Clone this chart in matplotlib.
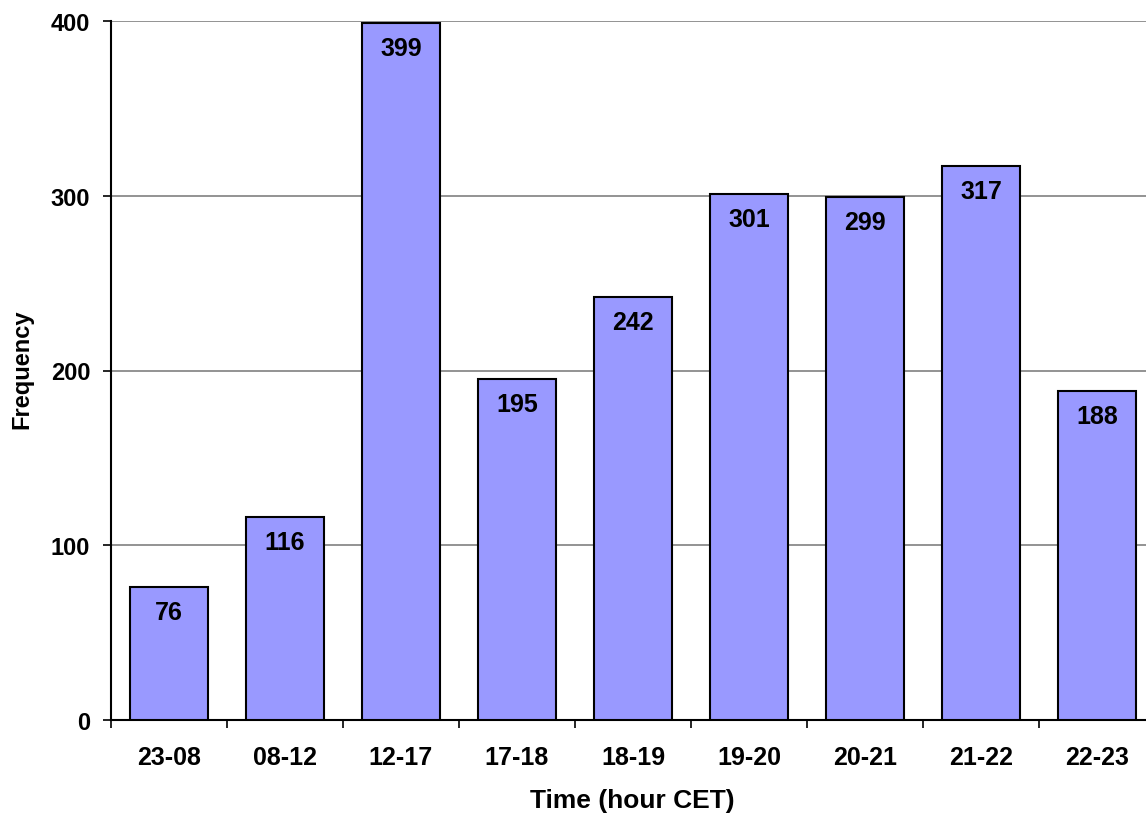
import matplotlib
matplotlib.use("Agg")
import matplotlib.pyplot as plt
import numpy as np

categories = ["23-08", "08-12", "12-17", "17-18", "18-19", "19-20", "20-21", "21-22", "22-23"]
values = [76, 116, 399, 195, 242, 301, 299, 317, 188]
yticks = [0, 100, 200, 300, 400]

plt.rcParams['font.family'] = ['Liberation Sans', 'DejaVu Sans']
FS = 18

fig = plt.figure(figsize=(11.46, 8.2), dpi=100)
ax = fig.add_axes([111/1146, 99/820, 1044/1146, 699/820])

x = np.arange(len(categories))
ax.set_axisbelow(True)
ax.yaxis.grid(True, color='#808080', linewidth=1.2)
ax.bar(x, values, width=0.67, color='#9999FF', edgecolor='black', linewidth=1.5, zorder=3)
for xi, v in zip(x, values):
    ax.annotate(str(v), (xi, v), xytext=(0, -25), textcoords='offset pixels',
                ha='center', va='center', fontsize=FS, fontweight='bold', zorder=4)

ax.set_xlim(-0.5, len(categories) - 0.5)
ax.set_ylim(0, 400)
ax.set_yticks(yticks)
ax.set_yticklabels([str(t) for t in yticks], fontsize=17, fontweight='bold')
ax.set_xticks(x)
ax.set_xticklabels(categories, fontsize=FS, fontweight='bold')
ax.set_xticks(np.arange(len(categories) + 1) - 0.5, minor=True)
ax.tick_params(axis='x', which='major', length=0, pad=18)
ax.tick_params(axis='x', which='minor', length=6, width=1.2, direction='out', color='black')
ax.tick_params(axis='y', length=6, width=1.2, direction='out', pad=9, color='black')

for s in ['top', 'right']:
    ax.spines[s].set_visible(False)
for s in ['left', 'bottom']:
    ax.spines[s].set_linewidth(1.5)

ax.set_ylabel("Frequency", fontsize=17, fontweight='bold', va='center')
ax.yaxis.set_label_coords((22 - 111) / 1044, (721 - 369) / 699)
ax.set_xlabel("Time (hour CET)", fontsize=19, fontweight='bold', va='center')
ax.xaxis.set_label_coords((632 - 111) / 1044, (721 - 801) / 699)

fig.savefig("out.png", dpi=100)
